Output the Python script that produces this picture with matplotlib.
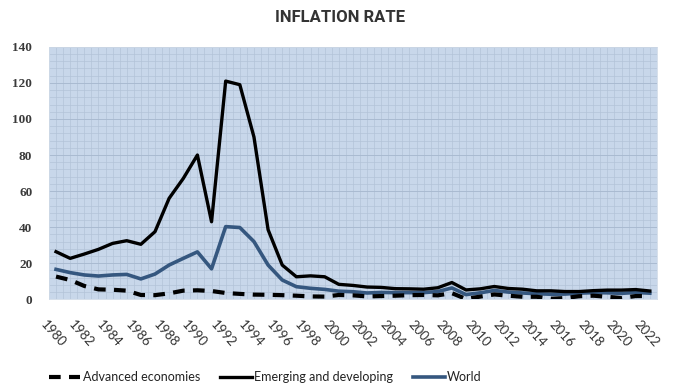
import matplotlib
matplotlib.use("Agg")
import matplotlib.pyplot as plt
import matplotlib.transforms as mtransforms
import numpy as np

years = list(range(1980, 2023))

advanced = [12.6, 10.7, 7.4, 5.5, 5.3, 4.8, 2.4, 2.3, 3.3, 4.8,
            5.0, 4.6, 3.5, 3.0, 2.6, 2.5, 2.3, 2.0, 1.6, 1.5,
            2.4, 2.2, 1.6, 1.8, 2.0, 2.3, 2.4, 2.2, 3.4, 0.2,
            1.5, 2.7, 2.0, 1.4, 1.4, 0.3, 0.7, 1.7, 2.0, 1.4,
            0.7, 1.8, 1.8]

emerging = [26.4, 22.7, 25.1, 27.7, 31.0, 32.5, 30.5, 37.5, 56.0, 67.0,
            80.0, 43.0, 121.0, 119.0, 90.0, 38.6, 19.0, 12.5, 13.0, 12.5,
            8.3, 7.7, 6.8, 6.6, 5.9, 5.8, 5.6, 6.4, 9.3, 5.2,
            5.8, 7.1, 6.0, 5.6, 4.7, 4.7, 4.3, 4.3, 4.8, 5.1,
            5.1, 5.4, 4.6]

world = [16.6, 14.8, 13.5, 12.9, 13.5, 13.8, 11.3, 14.0, 19.0, 22.7,
         26.3, 16.9, 40.3, 39.8, 32.0, 19.0, 10.7, 7.0, 6.1, 5.5,
         4.5, 4.2, 3.5, 3.8, 3.7, 3.7, 3.7, 4.3, 6.3, 2.6,
         3.6, 4.9, 4.0, 3.5, 3.1, 2.8, 2.9, 3.4, 3.7, 3.6,
         3.3, 3.8, 3.4]

tick_years = [str(y) for y in years[::2]]

fig = plt.figure(figsize=(6.8, 3.87), dpi=100)
ax = fig.add_axes([0.072, 0.2266, 0.894, 0.6524])

bg = "#c8d7ea"
grid_c = "#b3c3d8"
ax.set_facecolor(bg)

x = np.arange(len(years))

ax.set_xlim(-0.5, len(years) - 0.5)
ax.set_ylim(0, 140)

# fine background grid
for gx in np.arange(-0.5, len(years), 0.5):
    ax.axvline(gx, color=grid_c, lw=0.5, zorder=0)
for gy in np.arange(0, 141, 4):
    ax.axhline(gy, color=grid_c, lw=0.5, zorder=0)
for gy in np.arange(0, 141, 20):
    ax.axhline(gy, color="#a8b9cf", lw=0.6, zorder=0)

ax.plot(x, advanced, color="black", lw=3.0, linestyle=(0, (2.8, 2.0)),
        dash_capstyle="butt", label="Advanced economies", zorder=3)
ax.plot(x, emerging, color="black", lw=2.4, label="Emerging and developing",
        zorder=3, solid_joinstyle="round")
ax.plot(x, world, color="#35577f", lw=2.6, label="World", zorder=2,
        solid_joinstyle="round")

for s in ax.spines.values():
    s.set_color("#d0dbe8")
    s.set_linewidth(0.6)

ax.set_yticks(np.arange(0, 141, 20))
ax.set_yticklabels([str(v) for v in range(0, 141, 20)],
                   family="Liberation Serif", fontweight="bold",
                   fontsize=9.5, color="#3a3a3a")
ax.tick_params(axis="y", length=0, pad=12)

ax.set_xticks(x[::2])
ax.set_xticklabels(tick_years, rotation=-48, ha="center", va="top",
                   family="Lato", fontsize=9.5, color="#333333")
ax.tick_params(axis="x", length=0, pad=14)
offset = mtransforms.ScaledTranslation(-3 / 100, 0, fig.dpi_scale_trans)
for lab in ax.get_xticklabels():
    lab.set_transform(lab.get_transform() + offset)

fig.text(0.5, 0.955, "INFLATION RATE", ha="center", va="center",
         family="Roboto", fontweight="bold",
         fontsize=12, color="#333333")

leg = fig.legend(loc="center", bbox_to_anchor=(0.39, 0.026), ncol=3,
                 frameon=False, handlelength=2.53, columnspacing=1.6,
                 handletextpad=0.2, prop={"family": "Lato", "size": 9})
for t in leg.get_texts():
    t.set_color("#222222")

fig.savefig("out.png", dpi=100)
